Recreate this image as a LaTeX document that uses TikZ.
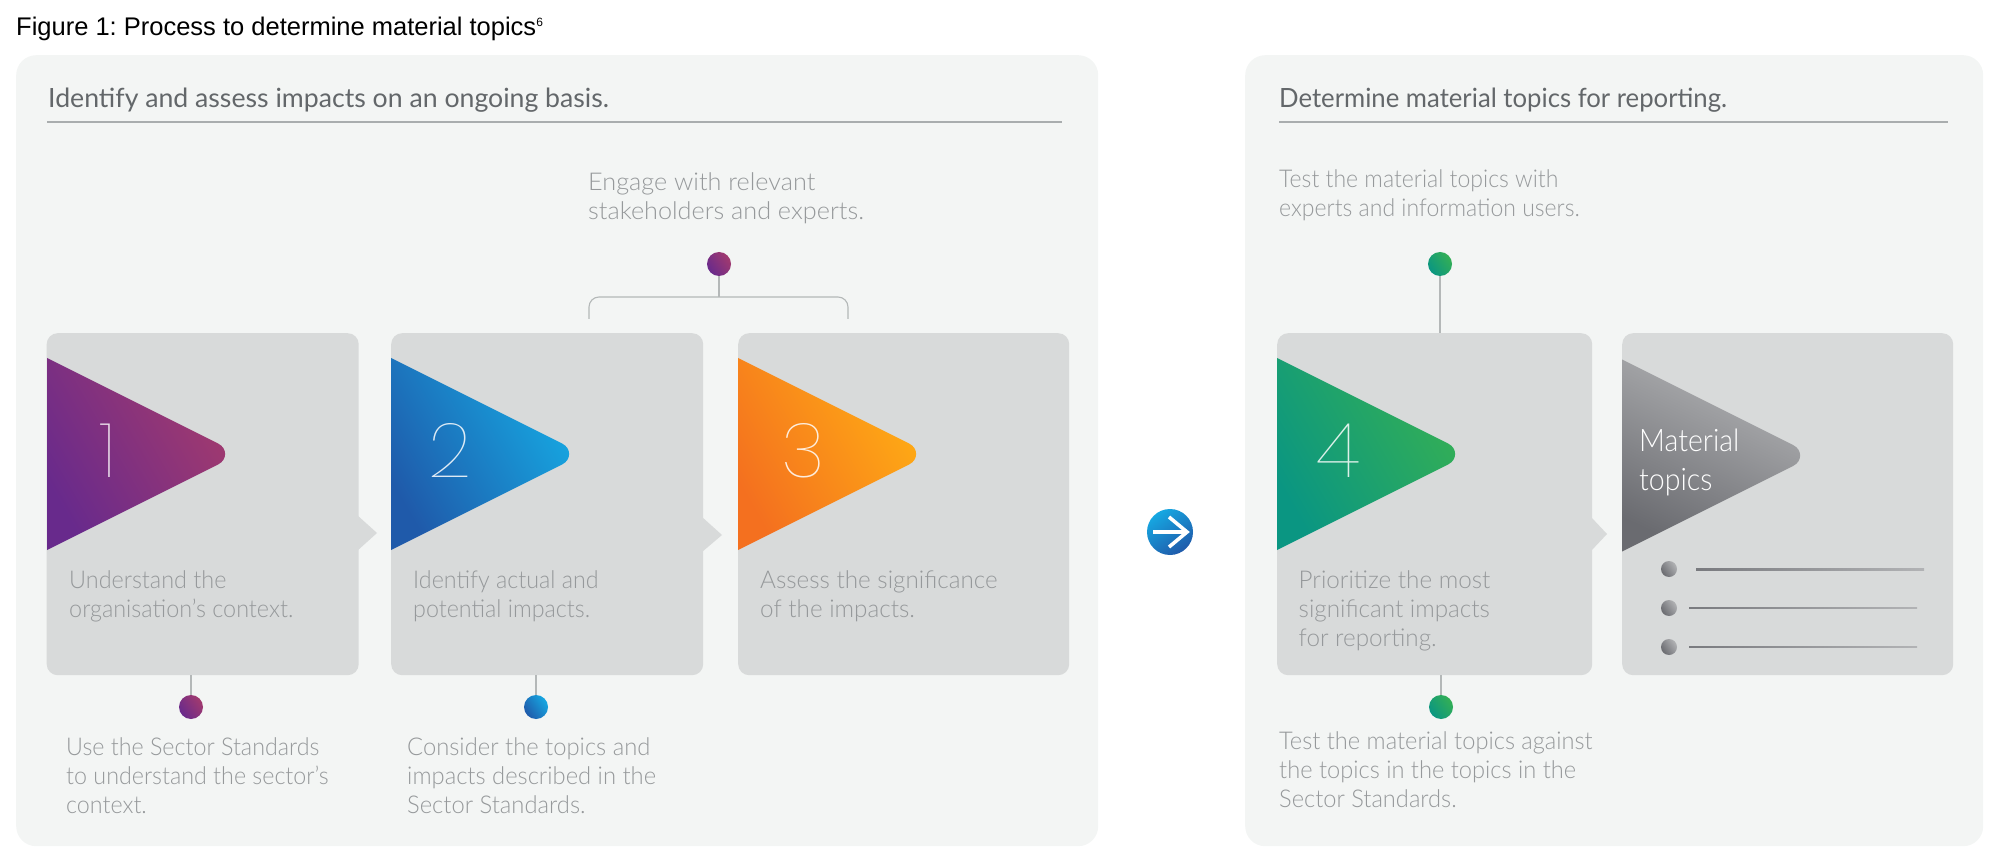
\documentclass[tikz,border=0pt]{standalone}
\usepackage{fontspec}
\usetikzlibrary{calc}
\setmainfont{Lato Light}
\newfontfamily\regf{Liberation Sans}
\newfontfamily\medf{Lato}
\newfontfamily\hairf{Poppins Thin}
\frenchspacing
\definecolor{panelc}{HTML}{F3F5F4}
\definecolor{boxc}{HTML}{D8DADA}
\definecolor{txtc}{HTML}{96999B}
\definecolor{headc}{HTML}{63676A}
\definecolor{rulec}{HTML}{A9ADAE}
\definecolor{linkc}{HTML}{B4B8B8}
\definecolor{purA}{HTML}{682A8C}\definecolor{purB}{HTML}{A23A6E}
\definecolor{bluA}{HTML}{1F5AAA}\definecolor{bluB}{HTML}{16A8E2}
\definecolor{oraA}{HTML}{F4701F}\definecolor{oraB}{HTML}{FFAC14}
\definecolor{greA}{HTML}{0A9682}\definecolor{greB}{HTML}{34AF55}
\definecolor{gryA}{HTML}{6A6B70}\definecolor{gryB}{HTML}{B2B3B5}
\tikzset{
  panel/.style={fill=panelc,rounded corners=20pt,inner sep=0pt,anchor=north west},
  bigbox/.style={fill=boxc,rounded corners=11pt,inner sep=0pt,anchor=north west,minimum height=342pt},
  notch/.style={fill=boxc},
  grad/.style n args={2}{bottom color=#1,top color=#2,middle color={#1!50!#2},shading angle=-55},
  dot/.style={circle,inner sep=0pt,minimum size=24pt},
  bullet/.style={circle,inner sep=0pt,minimum size=16pt},
  head/.style={anchor=base west,inner sep=0pt,text=headc,font=\medf\fontsize{26.5}{30}\selectfont\addfontfeature{FakeStretch=#1}},
  body/.style={anchor=base west,inner sep=0pt,align=left,text=txtc,font=\fontsize{24.5}{29}\selectfont\addfontfeature{FakeStretch=#1}},
  digit/.style={anchor=base,inner sep=0pt,text=white,text opacity=.85,font=\hairf\fontsize{76}{76}\selectfont},
  link/.style={draw=linkc,line width=1.1pt},
  ruleline/.style={draw=rulec,line width=1.2pt},
}
\newcommand{\tri}[5]{% left x, top y, colours, angle
  \shade[grad={#3}{#4},shading angle=#5] (#1,#2) -- ($(#1,#2)+(171,85.5)$) .. controls ($(#1,#2)+(180.5,90)$) and ($(#1,#2)+(180.5,102)$) .. ($(#1,#2)+(171,106.5)$) -- ($(#1,#2)+(0,192)$) -- cycle;}
\begin{document}
\begin{tikzpicture}[x=1pt,y=-1pt]
\useasboundingbox (0,0) rectangle (2000,866);
\node[anchor=base west,inner sep=0pt,text=black,font=\regf\fontsize{25.5}{28}\selectfont] (title) at (16,36) {Figure 1: Process to determine material topics\raisebox{9pt}{\fontsize{12}{12}\selectfont 6}};
% panels
\node[panel,minimum width=1082pt,minimum height=791pt] (p1) at (16,55) {};
\node[panel,minimum width=738pt,minimum height=791pt] (p2) at (1245,55) {};
\node[head=1.006] (h1) at (48,108) {Identify and assess impacts on an ongoing basis.};
\node[head=.97] (h2) at (1279,108) {Determine material topics for reporting.};
\coordinate (r1a) at (47,122); \coordinate (r1b) at (1062,122);
\coordinate (r2a) at (1279,122); \coordinate (r2b) at (1948,122);
\draw[ruleline] (r1a) -- (r1b);
\draw[ruleline] (r2a) -- (r2b);
% boxes
\node[bigbox,minimum width=312pt] (b1) at (46.5,333) {};
\node[bigbox,minimum width=312pt] (b2) at (391,333) {};
\node[bigbox,minimum width=331pt] (b3) at (738,333) {};
\node[bigbox,minimum width=315pt] (b4) at (1277,333) {};
\node[bigbox,minimum width=331pt] (b5) at (1622,333) {};
\fill[notch] (357,515) -- (377,533) -- (357,551) -- cycle;
\fill[notch] (702,517) -- (722,535) -- (702,552) -- cycle;
\fill[notch] (1591,517) -- (1607,534) -- (1591,551) -- cycle;
% triangles
\tri{47}{358}{purA}{purB}{-60}
\tri{391}{358}{bluA}{bluB}{-60}
\tri{738}{358}{oraA}{oraB}{-60}
\tri{1277}{358}{greA}{greB}{-60}
\tri{1622}{359.5}{gryA}{gryB}{-25}
% digits
\node[digit] (d1) at (108,477) {1};
\node[digit] (d2) at (450,477) {2};
\node[digit] (d3) at (803,477) {3};
\node[digit] (d4) at (1338,477) {4};
\node[anchor=base west,inner sep=0pt,align=left,text=white,font=\fontsize{31}{38.5}\selectfont\addfontfeature{FakeStretch=.92}] (mt) at (1639,490) {Material\\topics};
% box texts
\node[body=.955] (t1) at (69,617) {Understand the\\organisation’s context.};
\node[body=.95] (t2) at (413,617) {Identify actual and\\potential impacts.};
\node[body=.99] (t3) at (760,617) {Assess the significance\\of the impacts.};
\node[body=.99] (t4) at (1298.5,646) {Prioritize the most\\significant impacts\\for reporting.};
% outer texts
\node[body=1.03] (o0) at (588,220) {Engage with relevant\\stakeholders and experts.};
\node[body=.95] (o1) at (66,813) {Use the Sector Standards\\to understand the sector’s\\context.};
\node[body=.97] (o2) at (407,813) {Consider the topics and\\impacts described in the\\Sector Standards.};
\node[body=.94] (o3) at (1279,217) {Test the material topics with\\experts and information users.};
\node[body=.965] (o4) at (1279,807) {Test the material topics against\\the topics in the topics in the\\Sector Standards.};
% dots
\node[dot,grad={purA}{purB}] (dotA) at (719,264) {};
\node[dot,grad={purA}{purB}] (dotB) at (191,707) {};
\node[dot,grad={bluA}{bluB}] (dotC) at (536,707) {};
\node[dot,grad={greA}{greB}] (dotD) at (1440,264) {};
\node[dot,grad={greA}{greB}] (dotE) at (1441,707) {};
\coordinate (brL) at (589,319); \coordinate (brR) at (848,319); \coordinate (brT) at (719,297);
\draw[link,rounded corners=10pt] (brL) -- (brL |- brT) -- (brR |- brT) -- (brR);
\draw[link] (dotA.south) -- (brT);
\draw[link] (dotB.north) -- (dotB.north |- b1.south);
\draw[link] (dotC.north) -- (dotC.north |- b2.south);
\draw[link] (dotD.south) -- (dotD.south |- b4.north);
\draw[link] (dotE.north) -- (dotE.north |- b4.south);
% bullets
\node[bullet,grad={gryA}{gryB}] (bl1) at (1669,569) {};
\node[bullet,grad={gryA}{gryB}] (bl2) at (1669,608) {};
\node[bullet,grad={gryA}{gryB}] (bl3) at (1669,647) {};
\shade[left color=gryA!90,right color=gryB] (1696,568.9) rectangle (1924,570.1);
\shade[left color=gryA!90,right color=gryB] (1689,607.7) rectangle (1917,608.9);
\shade[left color=gryA!90,right color=gryB] (1689,646.4) rectangle (1917,647.6);
% central arrow
\node[circle,inner sep=0pt,minimum size=46pt,bottom color=bluB,top color=bluA,shading angle=-145] (arrow) at (1170,532) {};
\coordinate (arS) at (1153,532); \coordinate (arE) at (1187,532);
\draw[white,line width=3.6pt] (arS) -- (arE);
\draw[white,line width=3.6pt] (1169,517) -- (arE) -- (1169,547);
\end{tikzpicture}
\end{document}
